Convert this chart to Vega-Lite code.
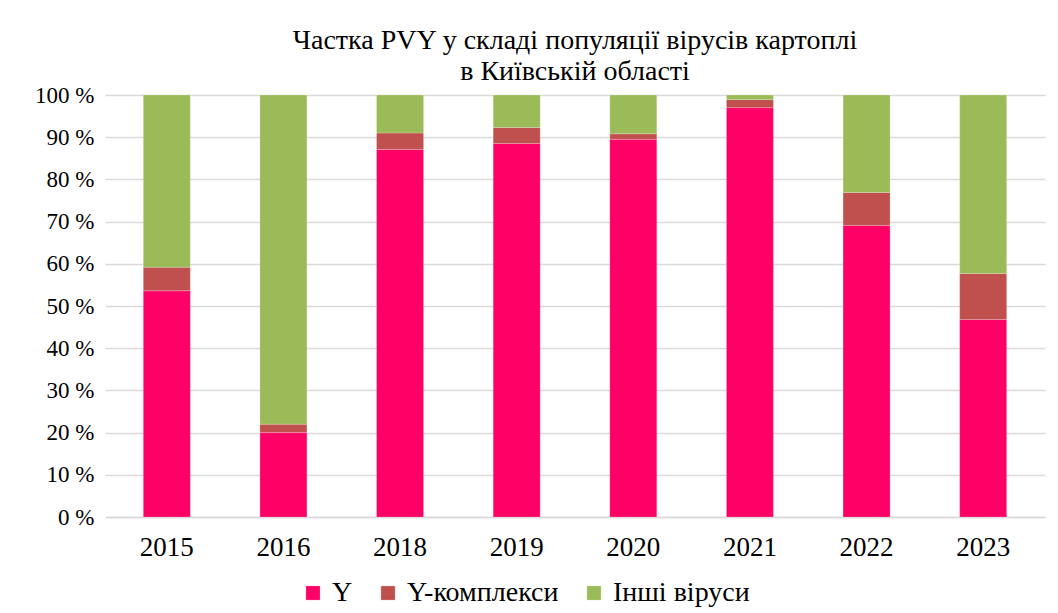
{
  "$schema": "https://vega.github.io/schema/vega-lite/v6.json",
  "autosize": "none",
  "width": 940,
  "height": 422,
  "padding": {"left": 105, "top": 95, "right": 13, "bottom": 96},
  "background": "white",
  "title": {
    "text": ["Частка PVY у складі популяції вірусів картоплі", "в Київській області"],
    "font": "Liberation Serif",
    "fontSize": 28,
    "fontWeight": "normal",
    "color": "#000000",
    "anchor": "middle",
    "frame": "group",
    "offset": -2,
    "lineHeight": 31
  },
  "data": {
    "values": [
      {"year": "2015", "type": "Y", "order": 1, "value": 53.6},
      {"year": "2015", "type": "Y-комплекси", "order": 2, "value": 5.6},
      {"year": "2015", "type": "Інші віруси", "order": 3, "value": 40.8},
      {"year": "2016", "type": "Y", "order": 1, "value": 20.0},
      {"year": "2016", "type": "Y-комплекси", "order": 2, "value": 2.0},
      {"year": "2016", "type": "Інші віруси", "order": 3, "value": 78.0},
      {"year": "2018", "type": "Y", "order": 1, "value": 87.1},
      {"year": "2018", "type": "Y-комплекси", "order": 2, "value": 3.9},
      {"year": "2018", "type": "Інші віруси", "order": 3, "value": 9.0},
      {"year": "2019", "type": "Y", "order": 1, "value": 88.5},
      {"year": "2019", "type": "Y-комплекси", "order": 2, "value": 3.8},
      {"year": "2019", "type": "Інші віруси", "order": 3, "value": 7.7},
      {"year": "2020", "type": "Y", "order": 1, "value": 89.5},
      {"year": "2020", "type": "Y-комплекси", "order": 2, "value": 1.3},
      {"year": "2020", "type": "Інші віруси", "order": 3, "value": 9.2},
      {"year": "2021", "type": "Y", "order": 1, "value": 97.0},
      {"year": "2021", "type": "Y-комплекси", "order": 2, "value": 1.9},
      {"year": "2021", "type": "Інші віруси", "order": 3, "value": 1.1},
      {"year": "2022", "type": "Y", "order": 1, "value": 69.1},
      {"year": "2022", "type": "Y-комплекси", "order": 2, "value": 7.8},
      {"year": "2022", "type": "Інші віруси", "order": 3, "value": 23.1},
      {"year": "2023", "type": "Y", "order": 1, "value": 46.8},
      {"year": "2023", "type": "Y-комплекси", "order": 2, "value": 10.9},
      {"year": "2023", "type": "Інші віруси", "order": 3, "value": 42.3}
    ]
  },
  "mark": {"type": "bar", "width": 47},
  "encoding": {
    "x": {
      "field": "year",
      "type": "nominal",
      "title": null,
      "scale": {"paddingInner": 0.6, "paddingOuter": 0.33},
      "axis": {
        "labelAngle": 0,
        "labelFont": "Liberation Serif",
        "labelFontSize": 27,
        "labelColor": "#000000",
        "labelPadding": 17,
        "ticks": false,
        "domain": true,
        "domainColor": "#d9d9d9",
        "domainWidth": 1.5,
        "grid": false
      }
    },
    "y": {
      "field": "value",
      "type": "quantitative",
      "stack": "zero",
      "title": null,
      "scale": {"domain": [0, 100]},
      "axis": {
        "values": [0, 10, 20, 30, 40, 50, 60, 70, 80, 90, 100],
        "labelExpr": "datum.value + ' %'",
        "labelFont": "Liberation Serif",
        "labelFontSize": 23,
        "labelColor": "#000000",
        "labelPadding": 11,
        "ticks": false,
        "domain": false,
        "grid": true,
        "gridColor": "#d9d9d9",
        "gridWidth": 1.5
      }
    },
    "color": {
      "field": "type",
      "type": "nominal",
      "title": null,
      "scale": {
        "domain": ["Y", "Y-комплекси", "Інші віруси"],
        "range": ["#ff0066", "#c0504d", "#9bbb59"]
      },
      "legend": {
        "orient": "none",
        "direction": "horizontal",
        "legendX": 194,
        "legendY": 484,
        "symbolType": "square",
        "symbolSize": 200,
        "symbolStrokeWidth": 0,
        "labelFont": "Liberation Serif",
        "labelFontSize": 28,
        "labelColor": "#000000",
        "labelLimit": 300,
        "columnPadding": 21,
        "labelOffset": 5
      }
    },
    "order": {"field": "order", "type": "quantitative"}
  },
  "config": {
    "view": {"stroke": null},
    "bar": {"stroke": "#ffffff", "strokeWidth": 0.5, "strokeOpacity": 0.4}
  }
}
